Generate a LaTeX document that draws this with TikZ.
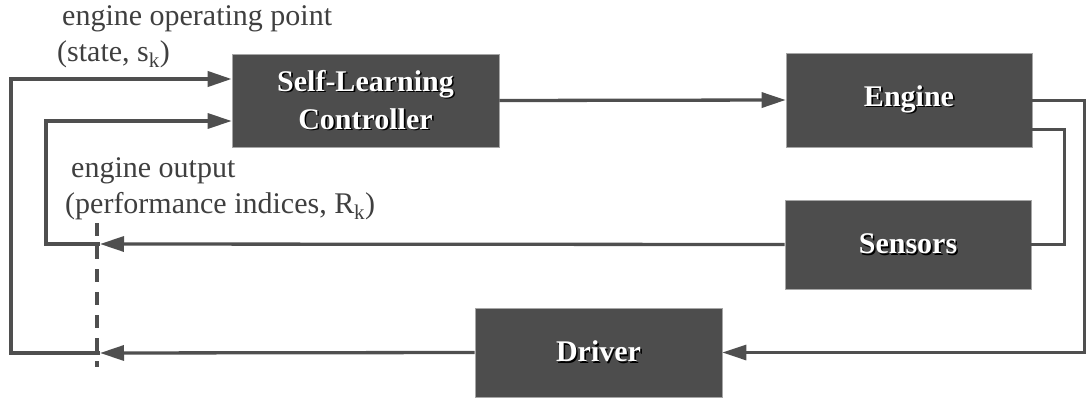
\documentclass[tikz,border=0pt]{standalone}
\usepackage{fontspec}
\setmainfont{Liberation Serif}
\usetikzlibrary{arrows.meta}
\definecolor{boxfill}{HTML}{4D4D4D}
\definecolor{wire}{HTML}{4F4F4F}
\definecolor{labelgray}{HTML}{3F3F3F}
% white lettering with a dark drop shadow
\newcommand\shtext[1]{\leavevmode\rlap{\raisebox{-1.6pt}{\hspace{1.6pt}\color{black}#1}}#1}
\begin{document}
\begin{tikzpicture}[x=1pt,y=-1pt,
  block/.style={draw=gray!70,line width=0.6pt,fill=boxfill,text=white,
    font=\fontsize{30}{36}\selectfont\bfseries,align=center,inner sep=0pt},
  wireline/.style={draw=wire,line width=3.3pt,line join=miter},
  tip/.style={-{Triangle[length=24pt,width=15pt]}},
  caption/.style={text=labelgray,font=\fontsize{30}{36}\selectfont,anchor=base west,inner sep=0pt}]
\useasboundingbox (0,0) rectangle (1088,402);

% blocks
\node[block,minimum width=267pt,minimum height=93pt] (ctrl) at (365.5,100.5)
  {\shtext{Self-Learning}\\[2pt]\shtext{Controller}};
\node[block,minimum width=246pt,minimum height=94pt] (eng) at (909,100)
  {\shtext{Engine}};
\node[block,minimum width=246pt,minimum height=89pt] (sens) at (908,244.5)
  {\shtext{Sensors}};
\node[block,minimum width=247pt,minimum height=89pt] (drv) at (598.5,352.5)
  {\shtext{Driver}};

% captions
\node[caption] (lopA) at (62,25) {engine operating point};
\node[caption] (lopB) at (57,61) {(state, s\textsubscript{k})};
\node[caption] (loutA) at (71,177) {engine output};
\node[caption] (loutB) at (65,213) {(performance indices, R\textsubscript{k})};

% junction points on the return paths
\coordinate (sj) at (100,244);
\coordinate (dj) at (100,353);
\coordinate (eo) at (1032,129);

% controller to engine
\draw[wireline,tip] (ctrl.east) -- (eng.west);
% engine to driver
\draw[wireline,line width=3pt,tip] (eng.east) -- (1084,100) |- (drv.east);
% engine to sensors
\draw[wireline,line width=3pt] (eo) -- (1064,129) |- (sens.east);
% sensors back to controller (performance indices)
\draw[wireline,tip] (sens.west) -- (sj);
\draw[wireline,tip] (sj) -- (46,244) -- (46,121) -- (ctrl.west |- 0,121);
% driver back to controller (operating point)
\draw[wireline,tip] (drv.west) -- (dj);
\draw[wireline,line width=3.8pt,tip] (dj) -- (11,353) -- (11,79) -- (ctrl.west |- 0,79);

% dashed separator
\coordinate (dtop) at (97,223);
\coordinate (dbot) at (97,367);
\draw[draw=wire,line width=3.4pt,dash pattern=on 13pt off 10pt] (dtop) -- (dbot);
\end{tikzpicture}
\end{document}
